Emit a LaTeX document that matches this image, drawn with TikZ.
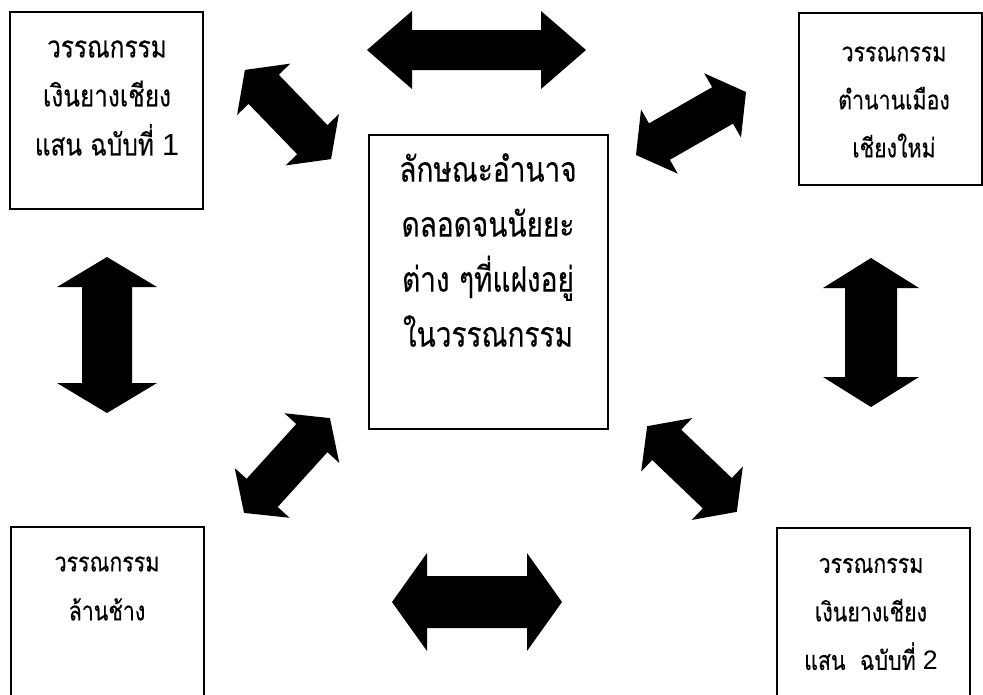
\documentclass[tikz,border=0pt]{standalone}
\usepackage{fontspec}
\newfontfamily\thaifont[Script=Thai, FakeStretch=0.8, FakeBold=0.25]{Loma}
\newfontfamily\latfont{Liberation Sans}
% cx, cy, angle, half length, head length, head half width, shaft half width
\newcommand{\blockarrow}[7]{%
  \fill[blk, shift={(#1,#2)}, rotate=#3]
    (-#4,0) -- (-#4+#5,#6) -- (-#4+#5,#7) -- (#4-#5,#7) -- (#4-#5,#6) -- (#4,0)
    -- (#4-#5,-#6) -- (#4-#5,-#7) -- (-#4+#5,-#7) -- (-#4+#5,-#6) -- cycle;}
\begin{document}
\begin{tikzpicture}[x=1pt,y=-1pt,
  box/.style={draw=black, line width=1.8pt, inner sep=0pt},
  lbl/.style={align=center, inner sep=0pt, text=black},
  blk/.style={fill=black}]
\useasboundingbox[fill=white] (0,0) rectangle (983,694);
% boxes
\node[box, minimum width=193pt, minimum height=197pt] (tl) at (106.5,110.5) {};
\node[box, minimum width=183pt, minimum height=172pt] (tr) at (890.5,99) {};
\node[box, minimum width=239pt, minimum height=294pt] (c) at (488.5,282) {};
\node[box, minimum width=193pt, minimum height=193pt] (bl) at (107.5,623.5) {};
\node[box, minimum width=193pt, minimum height=192pt] (br) at (873.5,624) {};
% texts
\node[lbl, font=\fontsize{30.5}{49}\selectfont\thaifont] (tlt) at (107,98)
  {วรรณกรรม\\เงินยางเชียง\\แสน ฉบับที่ {\latfont 1}};
\node[lbl, font=\fontsize{26.7}{48}\selectfont\thaifont] (trt) at (894,102)
  {วรรณกรรม\\ตำนานเมือง\\เชียงใหม่};
\node[lbl, font=\fontsize{35}{55}\selectfont\thaifont] (ct) at (488,250)
  {ลักษณะอำนาจ\\ดลอดจนนัยยะ\\ต่าง ๆที่แฝงอยู่\\ในวรรณกรรม};
\node[lbl, font=\fontsize{26.7}{49}\selectfont\thaifont] (blt) at (107,588.5)
  {วรรณกรรม\\ล้านช้าง};
\node[lbl, font=\fontsize{26.7}{48.5}\selectfont\thaifont] (brt) at (871,614)
  {วรรณกรรม\\เงินยางเชียง\\แสน~~ฉบับที่ {\latfont 2}};
% block arrows
\blockarrow{476.5}{50}{0}{109.5}{45}{39}{20}
\blockarrow{477}{602}{0}{85}{35}{49}{26}
\blockarrow{107}{335}{90}{78}{30}{50}{25}
\blockarrow{871}{332.5}{90}{74.5}{30}{48}{26}
\blockarrow{288}{114.5}{-46}{62}{27}{37}{21}
\blockarrow{691}{123.5}{29.8}{63.4}{27}{37}{21}
\blockarrow{287}{465.5}{47.8}{64}{27}{37}{21}
\blockarrow{692}{469}{-43.7}{62}{27}{37}{21}
\end{tikzpicture}
\end{document}
